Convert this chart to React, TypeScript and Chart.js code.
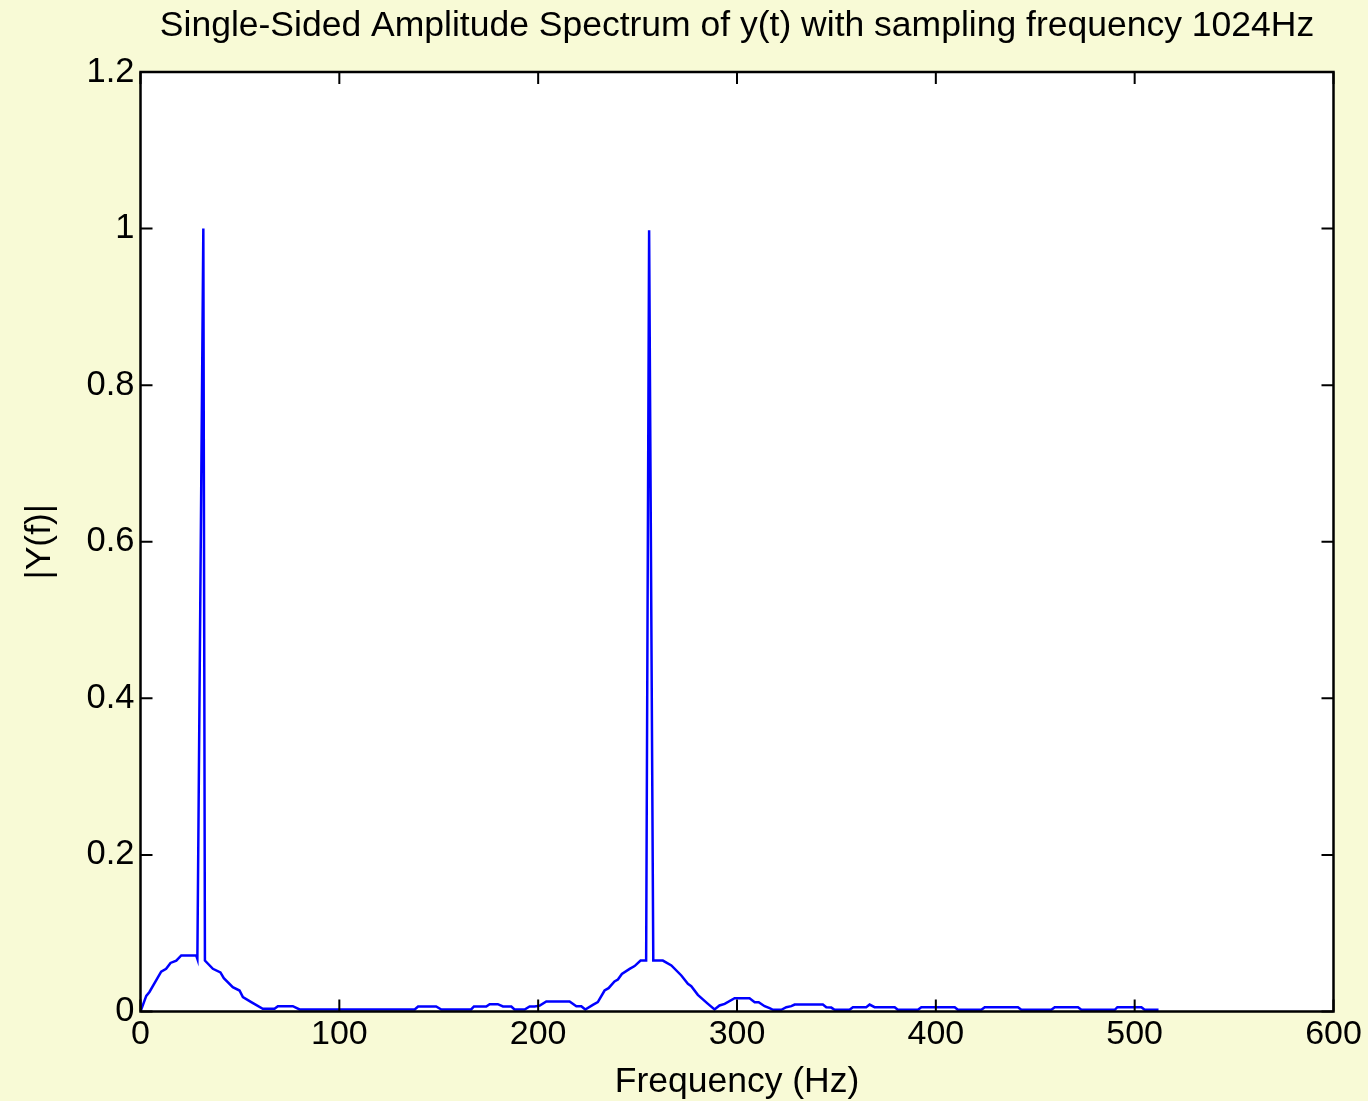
import { useEffect, useRef } from "react";
import { Chart, registerables } from "chart.js";

Chart.register(...registerables);

const titleText = "Single-Sided Amplitude Spectrum of y(t) with sampling frequency 1024Hz";
const xLabel = "Frequency (Hz)";
const yLabel = "|Y(f)|";

const xTicks = [0, 100, 200, 300, 400, 500, 600];
const yTicks = [0, 0.2, 0.4, 0.6, 0.8, 1, 1.2];

const frequencies = [
  0, 2.9, 4.5, 10.4, 12.9, 15.1, 18.0, 20.5, 28.0, 28.6, 31.6, 32.4, 36.4, 40.2, 41.9,
  46.4, 49.8, 51.5, 55.7, 61.5, 67.4, 69.1, 76.6, 80.0, 137.9, 139.6, 148.7, 151.3, 166.3,
  167.7, 173.9, 175.6, 179.7, 182.3, 186.5, 188.1, 193.2, 195.7, 198.2, 200.8, 204.1, 215.8,
  219.2, 221.7, 223.7, 227.5, 230.0, 233.4, 235.4, 238.4, 240.1, 242.1, 246.0, 248.5, 251.5,
  254.3, 255.8, 257.9, 262.7, 267.0, 272.0, 275.3, 277.0, 280.3, 285.4, 288.7, 291.2, 293.8,
  298.8, 306.3, 308.9, 310.9, 313.9, 316.4, 318.1, 322.3, 324.8, 327.3, 329.0, 343.2, 344.9,
  347.4, 349.1, 356.6, 358.3, 365.0, 366.7, 369.2, 379.3, 380.9, 391.0, 392.7, 409.5, 411.1,
  422.9, 424.6, 441.3, 443.0, 458.1, 459.8, 471.5, 473.2, 490.0, 491.3, 503.4, 505.0, 512,
];

const amplitudes = [
  0, 0.02, 0.025, 0.051, 0.0545, 0.062, 0.065, 0.0716, 0.0716, 0.067, 1.0, 0.065, 0.0545, 0.05, 0.0426,
  0.031, 0.0268, 0.0183, 0.0119, 0.0034, 0.0034, 0.0068, 0.0068, 0.0026, 0.0026, 0.0064, 0.0064, 0.0026, 0.0026,
  0.0064, 0.0064, 0.0093, 0.0093, 0.0064, 0.0064, 0.0026, 0.0026, 0.0064, 0.0064, 0.0075, 0.0128, 0.0128,
  0.0068, 0.0068, 0.0025, 0.0085, 0.012, 0.0268, 0.0298, 0.0383, 0.0409, 0.048, 0.0545, 0.058, 0.065,
  0.065, 0.998, 0.065, 0.065, 0.0588, 0.046, 0.0354, 0.0324, 0.0213, 0.0098, 0.0026, 0.0077, 0.0098,
  0.017, 0.017, 0.0119, 0.0119, 0.0068, 0.0042, 0.0022, 0.0022, 0.0055, 0.0068, 0.0089, 0.0089, 0.0055,
  0.005, 0.0022, 0.0022, 0.0055, 0.0055, 0.0089, 0.0055, 0.0055, 0.0022, 0.0022, 0.0055, 0.0055, 0.0022,
  0.0022, 0.0055, 0.0055, 0.0022, 0.0022, 0.0055, 0.0055, 0.0022, 0.0022, 0.0055, 0.0055, 0.0022, 0.0022,
];

const BG = "rgb(248, 250, 214)";
const FONT = "'Liberation Sans', Arial, Helvetica, sans-serif";
const TICK_LEN = 12;

const framePlugin = {
  id: "matlabFrame",
  beforeDraw(chart: any) {
    const { ctx, chartArea: a, width, height } = chart;
    ctx.save();
    ctx.fillStyle = BG;
    ctx.fillRect(0, 0, width, height);
    ctx.fillStyle = "#ffffff";
    ctx.fillRect(a.left, a.top, a.right - a.left, a.bottom - a.top);
    ctx.restore();
  },
  afterDraw(chart: any) {
    const { ctx, chartArea: a, scales } = chart;
    ctx.save();
    ctx.strokeStyle = "#000000";
    ctx.lineWidth = 2;
    ctx.beginPath();
    for (const t of scales.x.ticks) {
      const px = scales.x.getPixelForValue(t.value);
      ctx.moveTo(px, a.bottom);
      ctx.lineTo(px, a.bottom - TICK_LEN);
      ctx.moveTo(px, a.top);
      ctx.lineTo(px, a.top + TICK_LEN);
    }
    for (const t of scales.y.ticks) {
      const py = scales.y.getPixelForValue(t.value);
      ctx.moveTo(a.left, py);
      ctx.lineTo(a.left + TICK_LEN, py);
      ctx.moveTo(a.right, py);
      ctx.lineTo(a.right - TICK_LEN, py);
    }
    ctx.stroke();
    ctx.lineWidth = 2.5;
    ctx.strokeRect(a.left, a.top, a.right - a.left, a.bottom - a.top);
    ctx.restore();
  },
};

export default function App() {
  const canvasRef = useRef<HTMLCanvasElement | null>(null);

  useEffect(() => {
    document.body.style.margin = "0";
    const canvas = canvasRef.current;
    if (!canvas) return;
    const points = frequencies.map((f, i) => ({ x: f, y: amplitudes[i] }));
    const chart = new Chart(canvas, {
      type: "line",
      data: {
        datasets: [
          {
            data: points,
            borderColor: "#0000ff",
            borderWidth: 2.5,
            pointRadius: 0,
            tension: 0,
            fill: false,
          },
        ],
      },
      options: {
        animation: false,
        responsive: false,
        layout: { padding: { left: 0, right: 34.5, top: 0, bottom: 0 } },
        plugins: {
          legend: { display: false },
          tooltip: { enabled: false },
          title: {
            display: true,
            text: titleText,
            fullSize: false,
            color: "#000000",
            font: { family: FONT, size: 35.5, weight: "normal" },
            padding: { top: 5, bottom: 24.4 },
          },
        },
        scales: {
          x: {
            type: "linear",
            min: 0,
            max: 600,
            afterBuildTicks: (s: any) => {
              s.ticks = xTicks.map((v) => ({ value: v }));
            },
            afterFit: (s: any) => {
              s.height = 89.5;
            },
            grid: { drawOnChartArea: false, drawTicks: false },
            border: { display: false },
            ticks: {
              color: "#000000",
              padding: 3,
              maxRotation: 0,
              font: { family: FONT, size: 34 },
              callback: (v: any) => String(v),
            },
            title: {
              display: true,
              text: xLabel,
              color: "#000000",
              font: { family: FONT, size: 35.5 },
              padding: { top: 0, bottom: -3 },
            },
          },
          y: {
            type: "linear",
            min: 0,
            max: 1.2,
            afterBuildTicks: (s: any) => {
              s.ticks = yTicks.map((v) => ({ value: v }));
            },
            afterFit: (s: any) => {
              s.width = 140.5;
            },
            grid: { drawOnChartArea: false, drawTicks: false },
            border: { display: false },
            ticks: {
              color: "#000000",
              padding: 6,
              font: { family: FONT, size: 34.5 },
              callback: (v: any) => String(v),
            },
            title: {
              display: true,
              text: yLabel,
              color: "#000000",
              font: { family: FONT, size: 35.5 },
              padding: { top: 18.7, bottom: 0 },
            },
          },
        },
      },
      plugins: [framePlugin],
    });
    return () => chart.destroy();
  }, []);

  return (
    <div style={{ position: "absolute", left: 0, top: 0, width: 1368, height: 1101, background: BG }}>
      <canvas ref={canvasRef} width={1368} height={1101} style={{ display: "block" }} />
    </div>
  );
}
